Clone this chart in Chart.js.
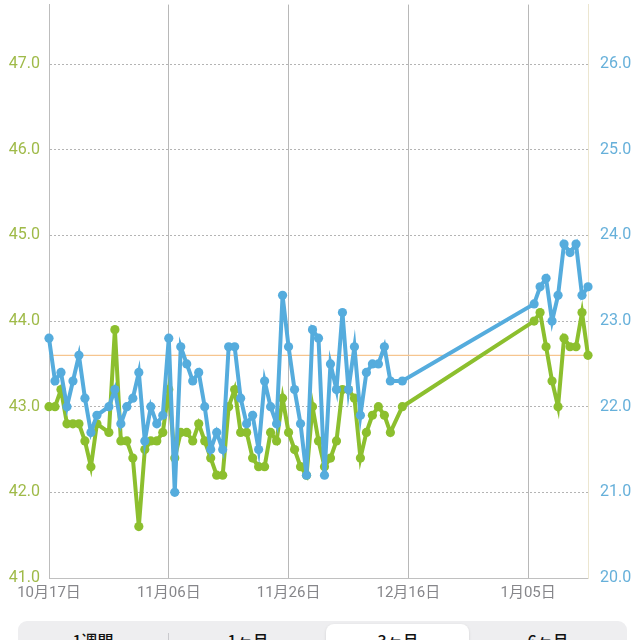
<!DOCTYPE html>
<html lang="ja">
<head>
<meta charset="utf-8">
<title>体重・体脂肪率</title>
<script src="https://cdn.jsdelivr.net/npm/chart.js@4.4.1/dist/chart.umd.min.js"></script>
<style>
    html, body { margin: 0; padding: 0; background: #fff; width: 640px; height: 640px; overflow: hidden; }
    #wrap { position: absolute; left: 0; top: 0; width: 640px; height: 615px; }
    .seg { position: absolute; left: 18px; top: 621px; width: 609px; height: 44px; background: #eeeef0; border-radius: 9px; }
    .seg .sel { position: absolute; left: 308px; top: 3px; width: 143px; height: 40px; background: #fff; border-radius: 8px; box-shadow: 0 1px 3px rgba(0,0,0,0.12); }
    .seg .div { position: absolute; left: 150px; top: 12px; width: 1px; height: 30px; background: #c9c9cd; }
    .seg span { position: absolute; top: 9px; width: 150px; text-align: center; font: 500 16px "Noto Sans CJK JP", sans-serif; color: #111; line-height: 20px; }
</style>
</head>
<body>
<div id="wrap"><canvas id="weightChart" width="640" height="615"></canvas></div>
<div class="seg">
    <div class="sel"></div>
    <div class="div"></div>
    <span style="left:0">1週間</span>
    <span style="left:155px">1ヶ月</span>
    <span style="left:305px">3ヶ月</span>
    <span style="left:455px">6ヶ月</span>
</div>
<script>
// 10月17日からの日数
const days = [0, 1, 2, 3, 4, 5, 6, 7, 8, 10, 11, 12, 13, 14, 15, 16, 17, 18, 19, 20,
    21, 22, 23, 24, 25, 26, 27, 28, 29, 30, 31, 32, 33, 34, 35, 36, 37, 38, 39, 40,
    41, 42, 43, 44, 45, 46, 47, 48, 49, 50, 51, 52, 53, 54, 55, 56, 57, 59,
    81, 82, 83, 84, 85, 86, 87, 88, 89, 90];

// 体重 (kg) - 左軸
const weight = [43.0, 43.0, 43.2, 42.8, 42.8, 42.8, 42.6, 42.3, 42.8, 42.7, 43.9, 42.6, 42.6, 42.4, 41.6, 42.5, 42.6, 42.6, 42.7, 43.2,
    42.4, 42.7, 42.7, 42.6, 42.8, 42.6, 42.4, 42.2, 42.2, 43.0, 43.2, 42.7, 42.7, 42.4, 42.3, 42.3, 42.7, 42.6, 43.1, 42.7,
    42.5, 42.3, 42.2, 43.0, 42.6, 42.3, 42.4, 42.6, 43.2, 43.2, 43.1, 42.4, 42.7, 42.9, 43.0, 42.9, 42.7, 43.0,
    44.0, 44.1, 43.7, 43.3, 43.0, 43.8, 43.7, 43.7, 44.1, 43.6];

// 体脂肪率 (%) - 右軸
const bodyFat = [22.8, 22.3, 22.4, 22.0, 22.3, 22.6, 22.1, 21.7, 21.9, 22.0, 22.2, 21.8, 22.0, 22.1, 22.4, 21.6, 22.0, 21.8, 21.9, 22.8,
    21.0, 22.7, 22.5, 22.3, 22.4, 22.0, 21.5, 21.7, 21.5, 22.7, 22.7, 22.1, 21.8, 21.9, 21.5, 22.3, 22.0, 21.8, 23.3, 22.7,
    22.2, 21.8, 21.2, 22.9, 22.8, 21.2, 22.5, 22.2, 23.1, 22.2, 22.7, 21.9, 22.4, 22.5, 22.5, 22.7, 22.3, 22.3,
    23.2, 23.4, 23.5, 23.0, 23.3, 23.9, 23.8, 23.9, 23.3, 23.4];

const targetWeight = 43.6;
const xTickLabels = ['10月17日', '11月06日', '11月26日', '12月16日', '1月05日'];

document.addEventListener('DOMContentLoaded', function () {
    const ctx = document.getElementById('weightChart').getContext('2d');
    const fontFamily = "Roboto, 'Noto Sans CJK JP', sans-serif";

    const greenColor = '#8cbf2e';
    const blueColor = '#55acdd';

    // 軸の余白を固定する
    const fixY = (w) => (s) => { s.width = w; s.paddingTop = 0; s.paddingBottom = 0; };

    new Chart(ctx, {
        type: 'line',
        data: {
            datasets: [
                {
                    label: '体脂肪率',
                    data: days.map((d, i) => ({ x: d, y: bodyFat[i] })),
                    yAxisID: 'yRight',
                    borderColor: blueColor,
                    backgroundColor: blueColor,
                    borderWidth: 4,
                    pointRadius: 4.6,
                    pointBorderWidth: 0,
                    tension: 0,
                    clip: false
                },
                {
                    label: '体重',
                    data: days.map((d, i) => ({ x: d, y: weight[i] })),
                    yAxisID: 'yLeft',
                    borderColor: greenColor,
                    backgroundColor: greenColor,
                    borderWidth: 4,
                    pointRadius: 4.6,
                    pointBorderWidth: 0,
                    tension: 0,
                    clip: false
                },
                {
                    label: '目標',
                    data: [{ x: 0, y: targetWeight }, { x: 90, y: targetWeight }],
                    yAxisID: 'yLeft',
                    borderColor: '#f6c58f',
                    borderWidth: 1.2,
                    pointRadius: 0
                }
            ]
        },
        options: {
            responsive: false,
            animation: false,
            layout: { padding: 0 },
            plugins: {
                legend: { display: false },
                tooltip: { enabled: false }
            },
            scales: {
                x: {
                    type: 'linear',
                    min: 0,
                    max: 90,
                    afterFit: (s) => { s.height = 37; s.paddingLeft = 0; s.paddingRight = 0; },
                    ticks: {
                        stepSize: 20,
                        includeBounds: false,
                        padding: 6,
                        color: '#86868a',
                        font: { family: fontFamily, size: 15 },
                        callback: (v, i) => xTickLabels[i]
                    },
                    grid: { color: '#b8b8b8', lineWidth: 1, drawTicks: false },
                    border: { color: '#c0c0c0' }
                },
                yLeft: {
                    position: 'left',
                    min: 41,
                    max: 47.695,
                    afterFit: fixY(49),
                    ticks: {
                        stepSize: 1,
                        includeBounds: false,
                        padding: 9,
                        color: '#9fba48',
                        font: { family: fontFamily, size: 16 },
                        callback: (v) => v.toFixed(1)
                    },
                    grid: { color: '#b4b4b4', lineWidth: 1, drawTicks: false },
                    border: { color: '#bdbdbd', dash: [2, 2] }
                },
                yRight: {
                    position: 'right',
                    min: 20,
                    max: 26.695,
                    afterFit: fixY(52),
                    ticks: {
                        stepSize: 1,
                        includeBounds: false,
                        padding: 12,
                        color: '#66b0da',
                        font: { family: fontFamily, size: 16 },
                        callback: (v) => v.toFixed(1)
                    },
                    grid: { drawOnChartArea: false, drawTicks: false },
                    border: { color: '#ece6d0' }
                }
            }
        }
    });
});
</script>
</body>
</html>
